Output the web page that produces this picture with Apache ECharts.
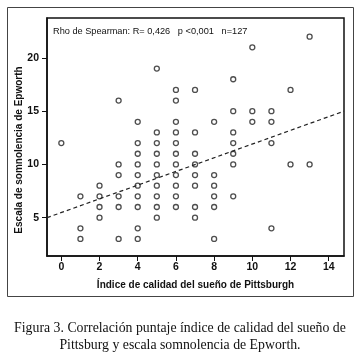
<!DOCTYPE html>
<html><head><meta charset="utf-8">
<script src="https://cdn.jsdelivr.net/npm/echarts@6/dist/echarts.min.js"></script>
<style>html,body{margin:0;padding:0;background:#fff}#c{width:360px;height:361px}</style>
</head><body><div id="c"></div>
<script>
// Pittsburgh index (x) and the Epworth values observed at each x
const xValues = [0, 1, 2, 3, 4, 5, 6, 7, 8, 9, 10, 11, 12, 13];
const epworthByX = [
  [12],
  [7, 4, 3],
  [8, 7, 6, 5],
  [16, 10, 9, 7, 6, 3],
  [14, 12, 11, 10, 9, 8, 7, 6, 4, 3],
  [19, 13, 12, 11, 10, 9, 8, 7, 6, 5],
  [17, 16, 14, 13, 12, 11, 10, 9, 8, 7, 6],
  [17, 13, 11, 10, 9, 8, 6, 5],
  [14, 9, 8, 7, 6, 3],
  [18, 15, 13, 12, 11, 10, 7],
  [21, 15, 14],
  [15, 14, 12, 4],
  [17, 10],
  [22, 10]
];
const fitLine = [[-0.75, 5.0], [14.8, 15.0]];
const xTicks = [0, 2, 4, 6, 8, 10, 12, 14];
const yTicks = [5, 10, 15, 20];
const statsText = 'Rho de Spearman: R= 0,426   p <0,001   n=127';
const xTitle = 'Índice de calidad del sueño de Pittsburgh';
const yTitle = 'Escala de somnolencia de Epworth';
const caption = 'Figura 3. Correlación puntaje índice de calidad del sueño de\nPittsburg y escala somnolencia de Epworth.';

const points = [];
xValues.forEach((x, i) => epworthByX[i].forEach(y => points.push([x, y])));

const chart = echarts.init(document.getElementById('c'), null, {renderer: 'canvas'});
const sans = '"Liberation Sans", Arial, sans-serif';
chart.setOption({
  animation: false,
  backgroundColor: '#fff',
  grid: {left: 47, top: 18, right: 16, bottom: 105, show: true, borderColor: '#111', borderWidth: 1.5, backgroundColor: 'transparent'},
  xAxis: {
    type: 'value', min: -0.75, max: 14.8,
    name: xTitle, nameLocation: 'middle', nameGap: 24,
    nameTextStyle: {fontFamily: sans, fontSize: 10, fontWeight: 'bold', color: '#111'},
    axisLine: {show: true, onZero: false, lineStyle: {color: '#111', width: 1.5}},
    axisTick: {show: true, length: 5, customValues: xTicks, lineStyle: {color: '#111', width: 1}},
    axisLabel: {customValues: xTicks, fontFamily: sans, fontSize: 10.5, fontWeight: 'bold', color: '#111', margin: 6},
    splitLine: {show: false}
  },
  yAxis: {
    type: 'value', min: 1.4, max: 23.75,
    axisLine: {show: true, onZero: false, lineStyle: {color: '#111', width: 1.5}},
    axisTick: {show: true, length: 5, customValues: yTicks, lineStyle: {color: '#111', width: 1}},
    axisLabel: {customValues: yTicks, fontFamily: sans, fontSize: 10.5, fontWeight: 'bold', color: '#111', margin: 8},
    splitLine: {show: false}
  },
  series: [
    {
      type: 'scatter', data: points, symbol: 'circle', symbolSize: 5,
      itemStyle: {color: '#fff', borderColor: '#222', borderWidth: 1.3}
    },
    {
      type: 'line', data: fitLine, symbol: 'none', silent: true,
      lineStyle: {color: '#222', width: 1.2, type: [4, 3]}
    }
  ],
  graphic: [
    {type: 'rect', shape: {x: 7.5, y: 7.5, width: 346, height: 289}, style: {fill: 'none', stroke: '#444', lineWidth: 1}, z: -1},
    {type: 'text', x: 19, y: 150, rotation: Math.PI / 2, style: {text: yTitle, font: 'bold 10px "Liberation Sans", Arial, sans-serif', fill: '#111', textAlign: 'center', textVerticalAlign: 'middle'}},
    {type: 'text', left: 53, top: 26.5, style: {text: statsText, font: '9.2px "Liberation Sans", Arial, sans-serif', fill: '#111'}},
    {type: 'text', left: 'center', top: 320, style: {text: caption, font: '13.8px "Liberation Serif", "Times New Roman", serif', fill: '#111', textAlign: 'center', lineHeight: 17}}
  ]
});
</script></body></html>
